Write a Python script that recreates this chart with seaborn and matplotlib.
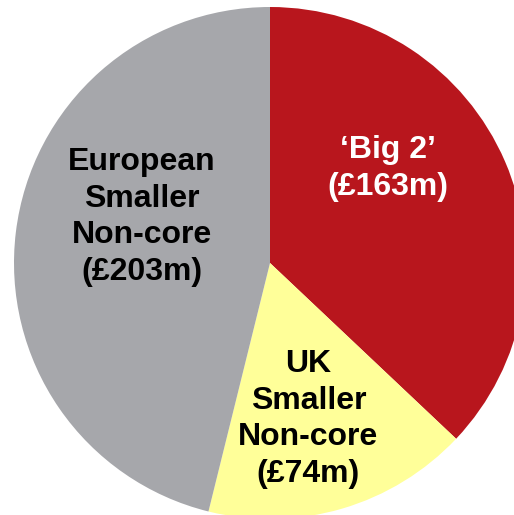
import matplotlib
matplotlib.use("Agg")
import matplotlib.pyplot as plt
import seaborn as sns

# Segment values (£m), clockwise from 12 o'clock
segments = ["\u2018Big 2\u2019", "UK\nSmaller\nNon-core", "European\nSmaller\nNon-core"]
values_m = [163, 74, 203]
colors = ["#B8161D", "#FFFF99", "#A6A7AB"]
text_colors = ["white", "black", "black"]
# label anchor positions in pie units (radius = 1)
label_x = [0.46, 0.15, -0.50]
label_y = [0.37, -0.61, 0.18]

sns.set_theme(style="white")
plt.rcParams["font.family"] = ["Liberation Sans", "DejaVu Sans"]

fig = plt.figure(figsize=(5.14, 5.15), dpi=100)
ax = fig.add_axes([0, 0, 1, 1])

ax.pie(values_m, colors=sns.color_palette(colors), startangle=90,
       counterclock=False, radius=1.0,
       wedgeprops=dict(linewidth=0, edgecolor="none"))

for name, v, c, x, y in zip(segments, values_m, text_colors, label_x, label_y):
    ax.text(x, y, f"{name}\n(\u00a3{v}m)", ha="center", va="center",
            multialignment="center", fontsize=23, fontweight="bold",
            color=c, linespacing=1.28)

ax.set_xlim(-270 / 256, 244 / 256)
ax.set_ylim(-252 / 256, 263 / 256)
ax.set_aspect("equal")
ax.axis("off")

fig.savefig("out.png", dpi=100)
